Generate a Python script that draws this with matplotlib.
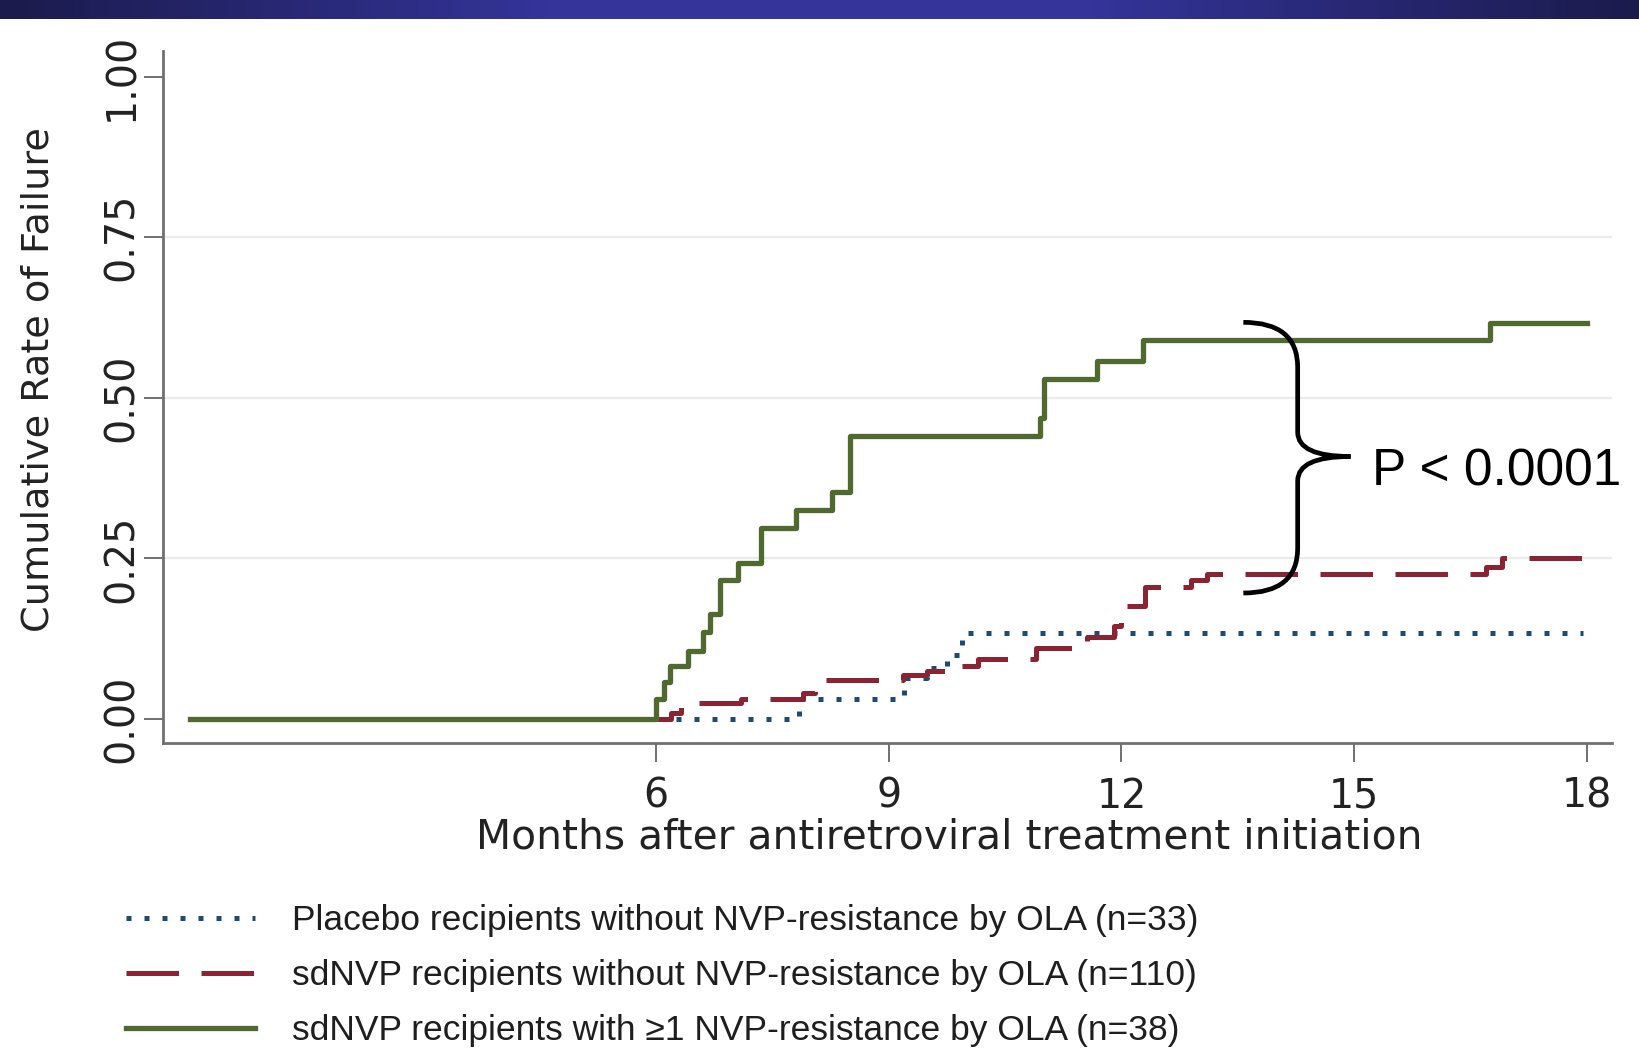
import matplotlib
matplotlib.use("Agg")
import matplotlib.pyplot as plt
import numpy as np
from matplotlib.path import Path
from matplotlib.patches import PathPatch
from matplotlib.colors import LinearSegmentedColormap

# ---------------- data ----------------
placebo_t = [0.0, 7.85, 9.2, 9.5, 9.75, 9.95, 17.95]
placebo_y = [0.0, 0.031, 0.063, 0.080, 0.100, 0.134, 0.134]

sdnvp_neg_t = [0.0, 6.2, 6.32, 6.45, 7.1, 7.9, 8.05, 8.15, 9.19, 9.49, 9.79,
               10.15, 10.9, 11.4, 11.55, 11.9, 12.0, 12.05, 12.3, 12.9, 13.1,
               16.7, 16.9, 18.0]
sdnvp_neg_y = [0.0, 0.009, 0.018, 0.025, 0.031, 0.040, 0.050, 0.060, 0.068,
               0.075, 0.083, 0.093, 0.111, 0.120, 0.128, 0.145, 0.160, 0.176,
               0.205, 0.217, 0.225, 0.236, 0.251, 0.251]

sdnvp_pos_t = [0.0, 6.0, 6.1, 6.18, 6.42, 6.61, 6.7, 6.83, 7.06, 7.36, 7.81,
               8.27, 8.50, 10.95, 11.0, 11.68, 12.28, 16.75, 18.0]
sdnvp_pos_y = [0.0, 0.031, 0.057, 0.083, 0.106, 0.135, 0.163, 0.217, 0.243,
               0.297, 0.326, 0.354, 0.440, 0.468, 0.530, 0.558, 0.590, 0.617,
               0.617]

series_labels = [
    "Placebo recipients without NVP-resistance by OLA (n=33)",
    "sdNVP recipients without NVP-resistance by OLA (n=110)",
    "sdNVP recipients with \u22651 NVP-resistance by OLA (n=38)",
]
xticks = [6, 9, 12, 15, 18]
xtick_labels = ["6", "9", "12", "15", "18"]
yticks = [0.0, 0.25, 0.50, 0.75, 1.00]
ytick_labels = ["0.00", "0.25", "0.50", "0.75", "1.00"]
grid_levels = [0.25, 0.50, 0.75]
p_text = "P < 0.0001"

# ---------------- styles ----------------
C_BLUE = "#1f4a72"
C_RED = "#8b2332"
C_GREEN = "#4e6a2f"
C_TEXT = "#222222"
C_AXIS = "#707070"

W, H = 1640, 1053
fig = plt.figure(figsize=(W / 100, H / 100), dpi=100)
fig.patch.set_facecolor("white")

# top banner
bar = fig.add_axes([0, 1 - 19 / H, 1, 19 / H])
cmap = LinearSegmentedColormap.from_list("bar", ["#1b1b4d", "#34349a", "#34349a", "#1b1b4d"])
bar.imshow(np.linspace(0, 1, 400)[None, :], aspect="auto", cmap=cmap,
           extent=[0, 1, 0, 1])
bar.set_axis_off()

ax = fig.add_axes([163 / W, 309.7 / H, 1449 / W, 692.3 / H])
ax.set_xlim(-0.35, 18.32)
ax.set_ylim(-0.038, 1.04)

for lev in grid_levels:
    ax.axhline(lev, color="#ececec", lw=1.6, zorder=0)

l_blue, = ax.step(placebo_t, placebo_y, where="post", color=C_BLUE, lw=3.6,
                  linestyle=(0, (1, 2.6)), dash_capstyle="butt", zorder=2)
l_red, = ax.step(sdnvp_neg_t, sdnvp_neg_y, where="post", color=C_RED, lw=3.6,
                 linestyle=(0, (10.5, 4.5)), zorder=3)
l_green, = ax.step(sdnvp_pos_t, sdnvp_pos_y, where="post", color=C_GREEN,
                   lw=3.8, zorder=4)

for s in ["top", "right"]:
    ax.spines[s].set_visible(False)
for s in ["left", "bottom"]:
    ax.spines[s].set_color(C_AXIS)
    ax.spines[s].set_linewidth(2)

ax.set_xticks(xticks)
ax.set_xticklabels(xtick_labels)
ax.set_yticks(yticks)
ax.set_yticklabels(ytick_labels, rotation=90, va="center")
ax.tick_params(axis="both", length=14, width=1.4, color=C_AXIS,
               labelsize=28.5, labelcolor=C_TEXT)
ax.tick_params(axis="x", pad=10)
ax.tick_params(axis="y", pad=1)

ax.set_xlabel("Months after antiretroviral treatment initiation",
              fontsize=29.3, color=C_TEXT)
ax.xaxis.set_label_coords(0.5425, -0.1065)
ax.set_ylabel("Cumulative Rate of Failure", fontsize=27.5, color=C_TEXT)
ax.yaxis.set_label_coords(-0.0732, 0.5248)

# brace annotation
x_end, x_spine, x_tip = 13.57, 14.27, 14.95
y_top, y_bot, y_tip = 0.6175, 0.196, 0.4086
r_end, r_mid = 0.07, 0.038
verts = [
    (x_end, y_top), (x_spine, y_top), (x_spine, y_top - r_end),
    (x_spine, y_tip + r_mid),
    (x_spine, y_tip), (x_tip, y_tip),
    (x_spine, y_tip), (x_spine, y_tip - r_mid),
    (x_spine, y_bot + r_end),
    (x_spine, y_bot), (x_end, y_bot),
]
codes = [Path.MOVETO, Path.CURVE3, Path.CURVE3, Path.LINETO,
         Path.CURVE3, Path.CURVE3,
         Path.CURVE3, Path.CURVE3, Path.LINETO,
         Path.CURVE3, Path.CURVE3]
ax.add_patch(PathPatch(Path(verts, codes), fill=False, lw=3.4, color="black",
                       clip_on=False, zorder=6, capstyle="butt"))
ax.text(15.23, 0.3635, p_text, fontsize=37, family="Liberation Sans",
        va="baseline", ha="left", color="black", clip_on=False)

# legend
fig.legend([l_blue, l_red, l_green], series_labels, loc="upper left",
           bbox_to_anchor=(126 / W, 1 - 904 / H), frameon=False,
           prop={"family": "Liberation Sans", "size": 25.5},
           handlelength=3.64, handletextpad=1.04, labelspacing=0.62,
           borderpad=0, borderaxespad=0, labelcolor="#1e1e1e")

fig.savefig("out.png", dpi=100, facecolor="white")
